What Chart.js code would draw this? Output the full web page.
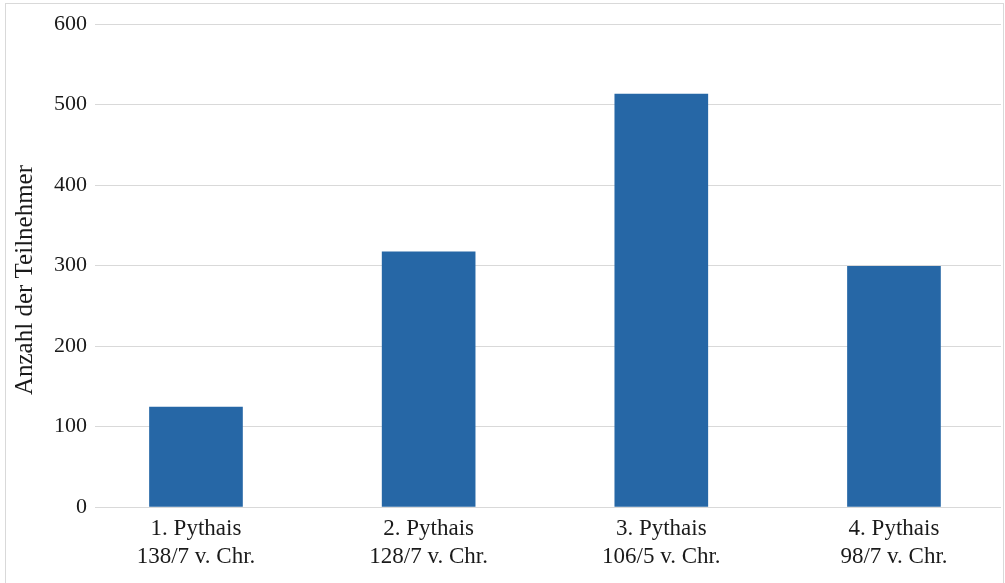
<!DOCTYPE html>
<html lang="de">
<head>
<meta charset="utf-8">
<title>Anzahl der Teilnehmer der Pythaiden</title>
<script src="https://cdn.jsdelivr.net/npm/chart.js@4/dist/chart.umd.min.js"></script>
<style>
  html, body { margin: 0; padding: 0; background: #ffffff; }
  #wrap { width: 1005px; height: 583px; position: relative; }
</style>
</head>
<body>
<div id="wrap"><canvas id="chart" width="1005" height="583"></canvas></div>
<script>
// Pythaiden und Teilnehmerzahlen
const categories = [
  ['1. Pythais', '138/7 v. Chr.'],
  ['2. Pythais', '128/7 v. Chr.'],
  ['3. Pythais', '106/5 v. Chr.'],
  ['4. Pythais', '98/7 v. Chr.']
];
const participants = [124, 317, 513, 299];
const yTicks = [0, 100, 200, 300, 400, 500, 600];
const yTitle = 'Anzahl der Teilnehmer';

const FONT = '"Liberation Serif", "Times New Roman", serif';
const TEXT = '#1a1a1a';
const GRID = '#d9d9d9';
const BAR = '#2667a6';

// White page with a thin frame around it
const framePlugin = {
  id: 'frame',
  beforeDraw(chart) {
    const ctx = chart.ctx;
    ctx.save();
    ctx.fillStyle = '#ffffff';
    ctx.fillRect(0, 0, chart.width, chart.height);
    ctx.strokeStyle = GRID;
    ctx.lineWidth = 1;
    ctx.strokeRect(5.5, 3.5, chart.width - 7, chart.height + 10);
    ctx.restore();
  }
};

// Vertical axis title, drawn beside the value axis
const yTitlePlugin = {
  id: 'yTitle',
  afterDraw(chart) {
    const ctx = chart.ctx;
    ctx.save();
    ctx.translate(25, 280);
    ctx.rotate(-Math.PI / 2);
    ctx.font = '25px ' + FONT;
    ctx.fillStyle = TEXT;
    ctx.textAlign = 'center';
    ctx.textBaseline = 'middle';
    ctx.fillText(yTitle, 0, 0);
    ctx.restore();
  }
};

new Chart(document.getElementById('chart'), {
  type: 'bar',
  data: {
    datasets: [{
      data: participants.map((v, i) => ({ x: i, y: v })),
      backgroundColor: BAR,
      borderWidth: 0,
      barThickness: 93
    }]
  },
  options: {
    responsive: false,
    animation: false,
    events: [],
    layout: { padding: { top: 24, right: 4, left: 0, bottom: 0 } },
    plugins: { legend: { display: false }, tooltip: { enabled: false } },
    scales: {
      x: {
        type: 'linear',
        offset: false,
        min: -0.434,
        max: 3.46,
        afterBuildTicks(scale) {
          scale.ticks = categories.map((_, i) => ({ value: i }));
        },
        afterFit(scale) { scale.height = 76; },
        grid: { display: false, drawTicks: false, offset: false },
        border: { display: false },
        ticks: {
          autoSkip: false,
          maxRotation: 0,
          padding: 8,
          color: TEXT,
          font: { family: FONT, size: 23, lineHeight: '28px' },
          callback: (v) => categories[v]
        }
      },
      y: {
        min: 0,
        max: 600,
        afterBuildTicks(scale) {
          scale.ticks = yTicks.map(v => ({ value: v }));
        },
        afterFit(scale) { scale.width = 95; },
        grid: { color: GRID, lineWidth: 1, drawTicks: false },
        border: { display: false },
        ticks: {
          padding: 8,
          color: TEXT,
          font: { family: FONT, size: 22 }
        }
      }
    }
  },
  plugins: [framePlugin, yTitlePlugin]
});
</script>
</body>
</html>
